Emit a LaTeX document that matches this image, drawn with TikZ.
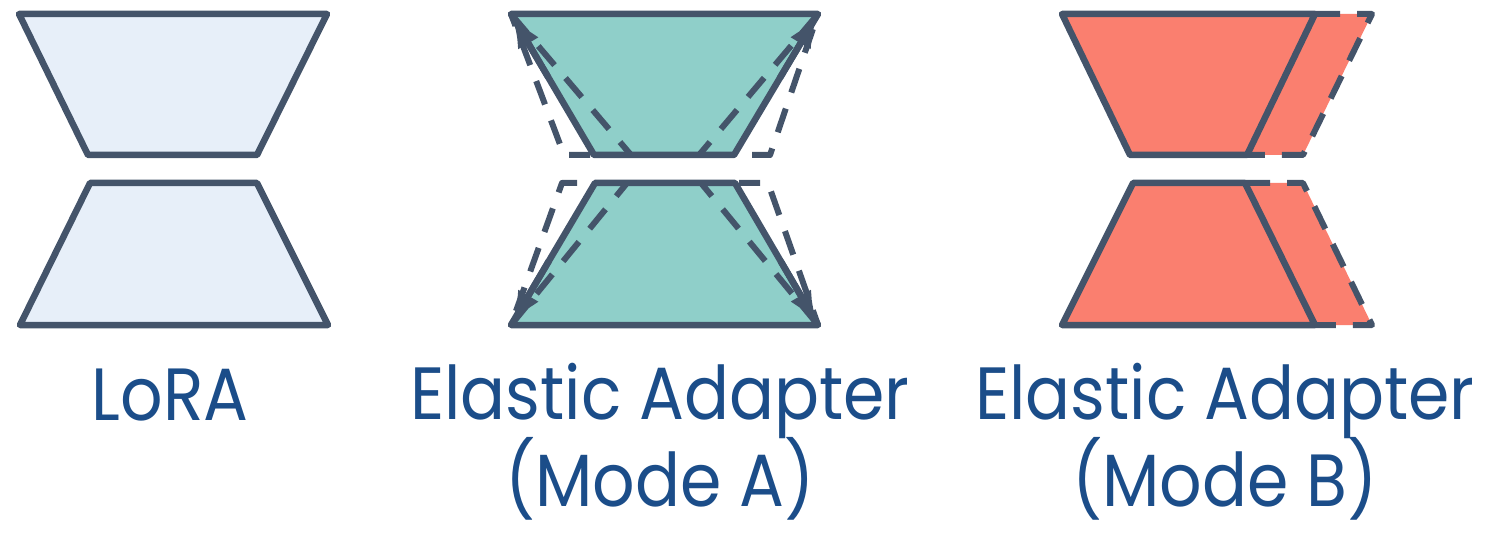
\documentclass[tikz,border=0pt]{standalone}
\usepackage{fontspec}
\newfontfamily\handfont[FakeStretch=0.9]{Poppins}
\usepackage{tikz}
\usetikzlibrary{calc,arrows.meta,positioning}
\definecolor{edgegray}{HTML}{44546A}
\definecolor{capblue}{HTML}{1B4D89}
\definecolor{lorafill}{HTML}{E7EFF9}
\definecolor{tealfill}{HTML}{8FCFC9}
\definecolor{salmonfill}{HTML}{FA7F6F}

\begin{document}
\begin{tikzpicture}[x=1pt,y=-1pt,
    block/.style={draw=edgegray,line width=6.5pt,line join=round,line cap=round},
    ghost/.style={draw=edgegray,line width=6pt,line join=round,dash pattern=on 25pt off 17pt},
    growarrow/.style={draw=edgegray,line width=6.5pt,-{Latex[length=34pt,width=24pt]}},
    caption/.style={font=\handfont\fontsize{74}{90}\selectfont,text=capblue,anchor=base,inner sep=0pt}]
    \useasboundingbox (0,0) rectangle (1495,534);

    % LoRA: plain down/up projection
    \filldraw[block,fill=lorafill] (19,14) -- (327,14) -- (257,155) -- (88,155) -- cycle;
    \filldraw[block,fill=lorafill] (90,183) -- (257,183) -- (328,325) -- (20,325) -- cycle;

    % Mode A: rank shrinks / grows around the same outer width
    \coordinate (a1) at (511,14);  \coordinate (a2) at (818,14);
    \coordinate (a3) at (734,155); \coordinate (a4) at (594,155);
    \coordinate (b1) at (595,183); \coordinate (b2) at (735,183);
    \coordinate (b3) at (818,325); \coordinate (b4) at (511,325);
    \filldraw[block,fill=tealfill] (a1) -- (a2) -- (a3) -- (a4) -- cycle;
    \filldraw[block,fill=tealfill] (b1) -- (b2) -- (b3) -- (b4) -- cycle;
    % inner (smaller rank) and outer (larger rank) outlines
    \draw[ghost,dash phase=8pt] (631,155) -- (a1);  \draw[ghost,dash phase=8pt] (699,155) -- (a2);
    \draw[ghost,dash phase=8pt] (627,183) -- (b4);  \draw[ghost,dash phase=8pt] (701,183) -- (b3);
    \draw[ghost,dash phase=4pt] (590,155) -- (564,155) -- (a1);
    \draw[ghost,dash phase=-18pt] (a3) -- (770,155) -- (a2);
    \draw[ghost,dash phase=-18pt] (b1) -- (562,183) -- (b4);
    \draw[ghost,dash phase=4pt] (739,183) -- (768,183) -- (b3);
    % corner arrows
    \foreach \s/\e in {a4/a1,a3/a2,b1/b4,b2/b3}
      \draw[growarrow] ($(\s)!0.55!(\e)$) -- (\e);

    % Mode B: extra slice added on the right
    \fill[salmonfill] (1315,14) -- (1372,14) -- (1303,155) -- (1247,155) -- cycle;
    \fill[salmonfill] (1245,183) -- (1303,183) -- (1372,325) -- (1315,325) -- cycle;
    \filldraw[block,fill=salmonfill] (1062,14) -- (1315,14) -- (1247,155) -- (1130,155) -- cycle;
    \filldraw[block,fill=salmonfill] (1133,183) -- (1245,183) -- (1315,325) -- (1062,325) -- cycle;
    \draw[ghost] (1315,14) -- (1372,14) -- (1303,155) -- (1247,155);
    \draw[ghost] (1245,183) -- (1303,183) -- (1372,325) -- (1315,325);

    % Labels
    \node[caption] (lora) at (170,420) {LoRA};
    \node[caption] (elasticA) at (660,419) {Elastic Adapter};
    \node[caption] (modeA) at ([yshift=-87pt]elasticA.base) {(Mode A)};
    \node[caption] (elasticB) at (1225,419) {Elastic Adapter};
    \node[caption] (modeB) at ([yshift=-87pt]elasticB.base) {(Mode B)};
\end{tikzpicture}
\end{document}
